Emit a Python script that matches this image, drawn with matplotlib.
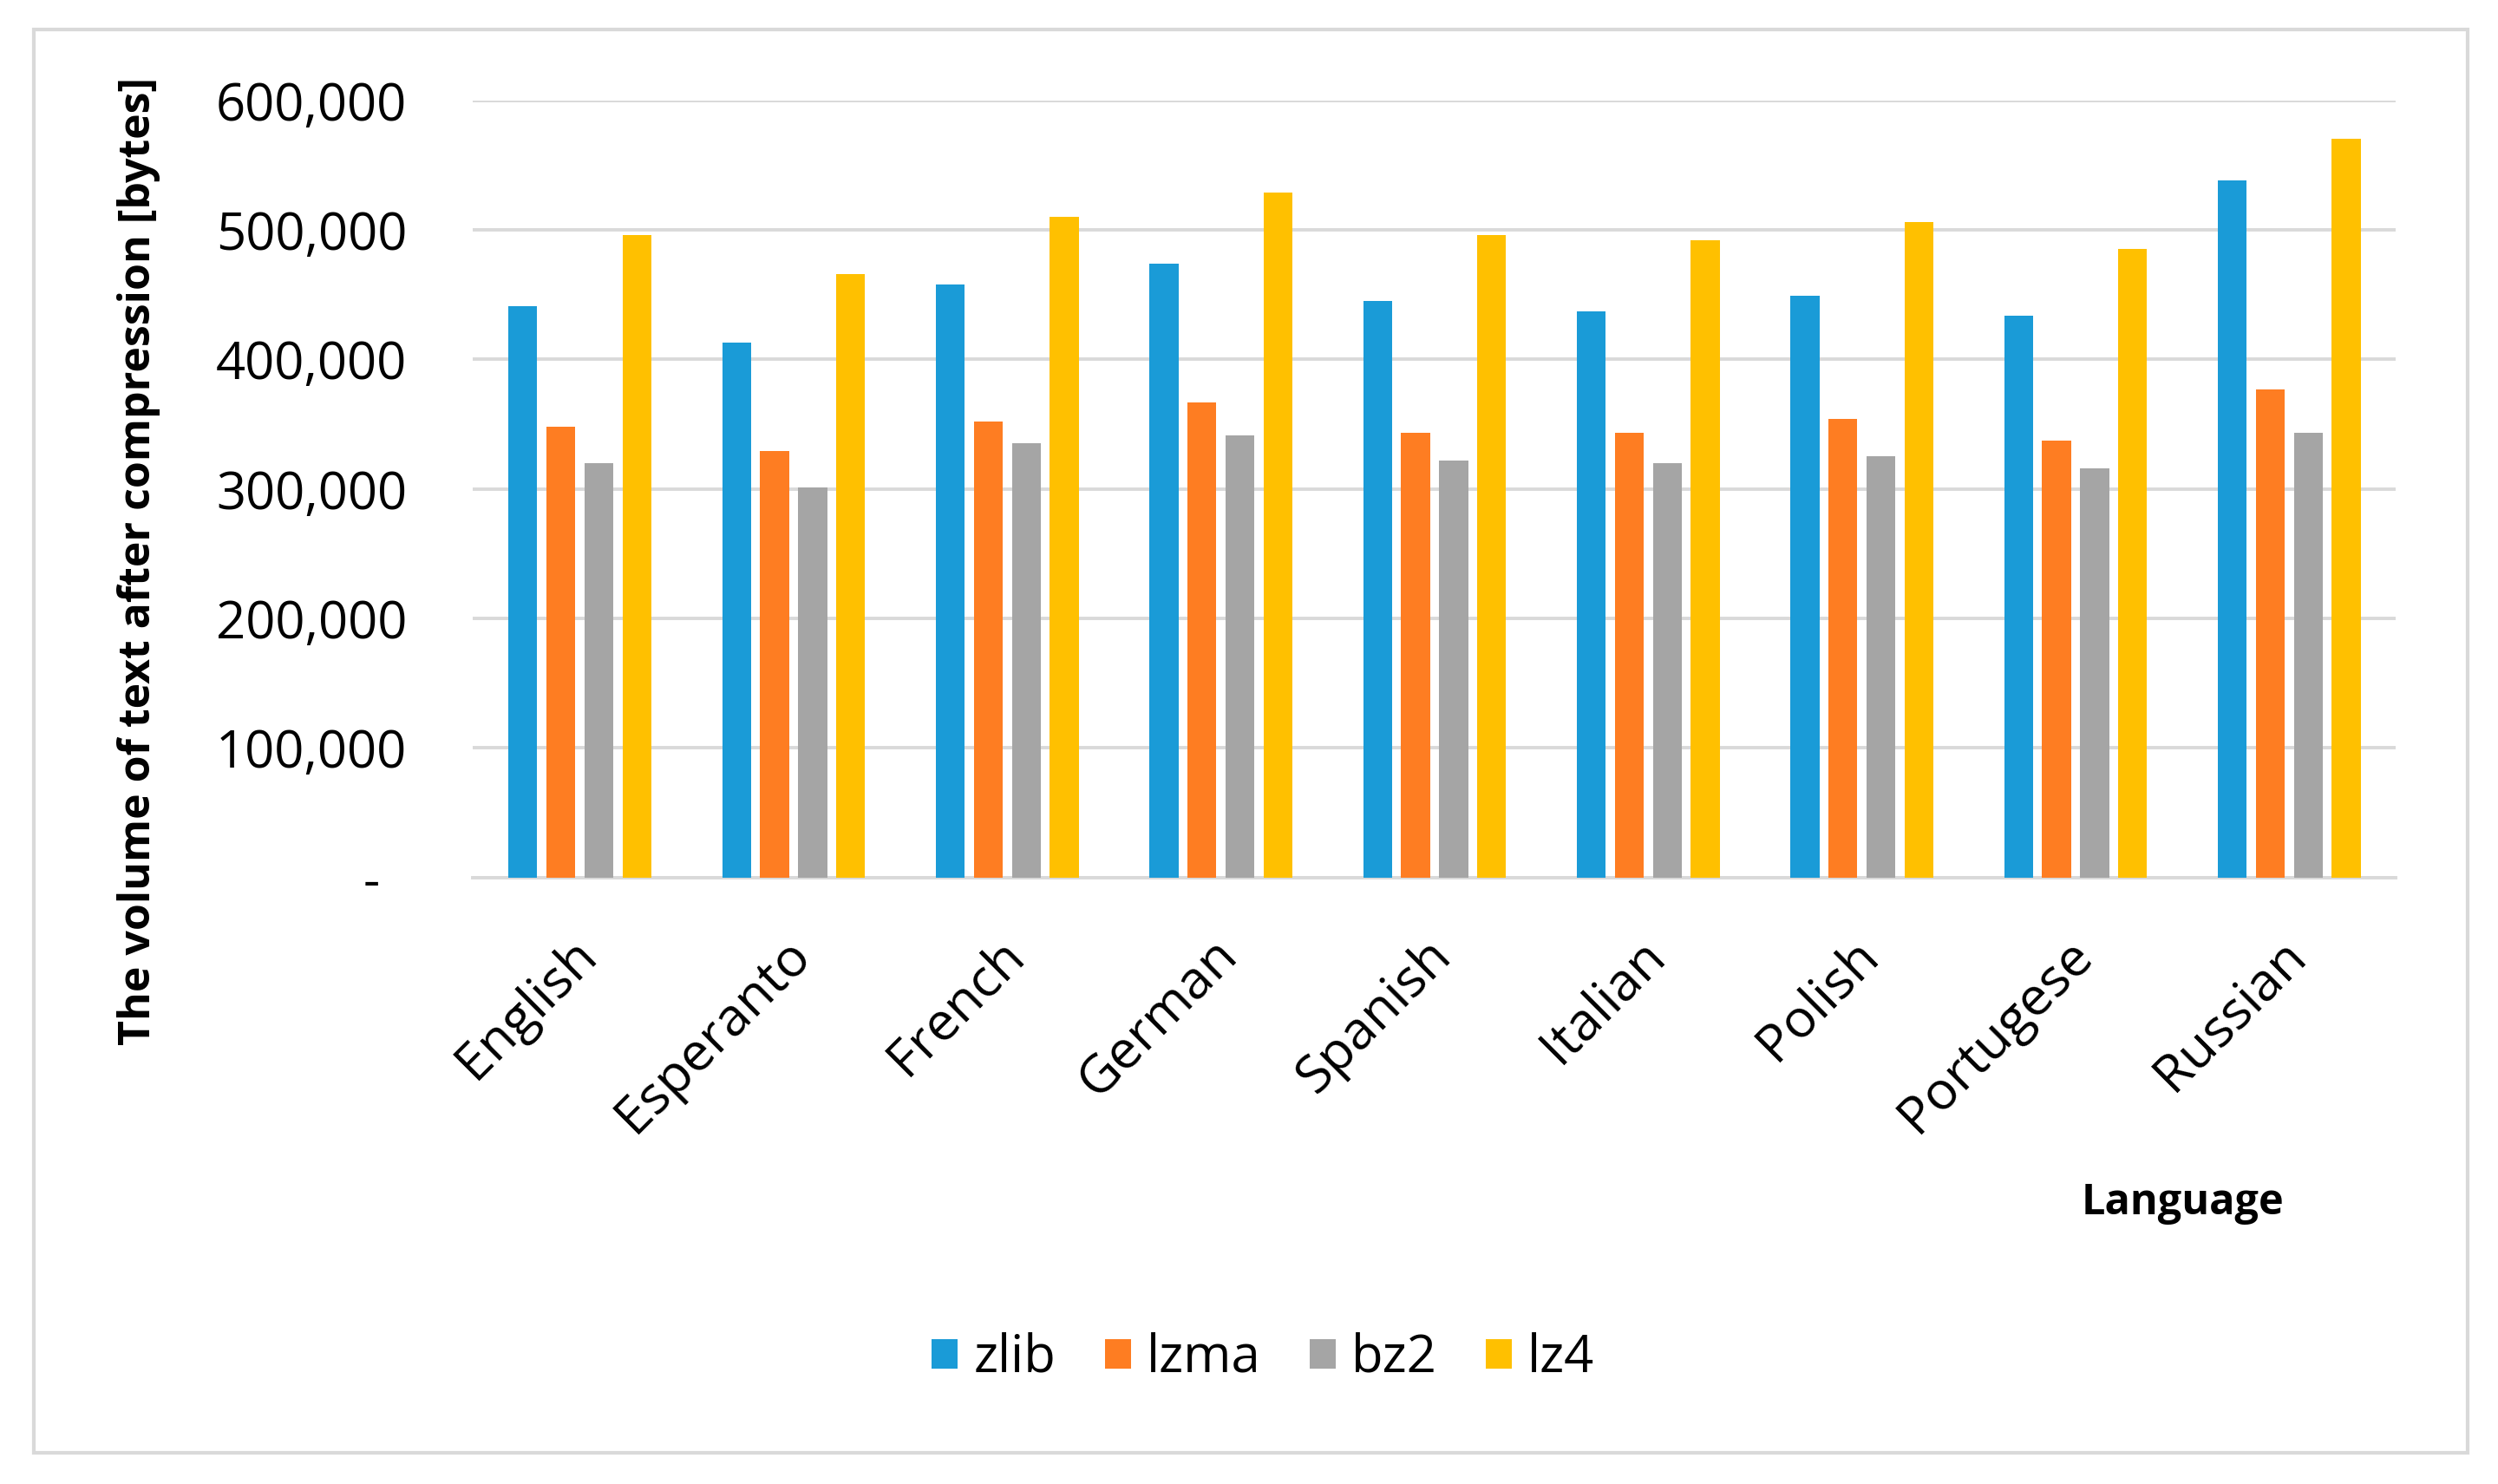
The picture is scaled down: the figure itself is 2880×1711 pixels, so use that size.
import matplotlib
matplotlib.use("Agg")
import matplotlib.pyplot as plt
from matplotlib.patches import Rectangle
from matplotlib.ticker import FixedLocator
import numpy as np

languages = ["English", "Esperanto", "French", "German", "Spanish",
             "Italian", "Polish", "Portugese", "Russian"]
series_names = ["zlib", "lzma", "bz2", "lz4"]
zlib = [441000, 413000, 458000, 474000, 445000, 437000, 449000, 434000, 538000]
lzma = [348000, 329000, 352000, 367000, 343000, 343000, 354000, 337000, 377000]
bz2 = [320000, 301000, 335000, 341000, 322000, 320000, 325000, 316000, 343000]
lz4 = [496000, 466000, 510000, 529000, 496000, 492000, 506000, 485000, 570000]
colors = ["#1A9BD7", "#FE7D22", "#A5A5A5", "#FFC000"]
yticks = [0, 100000, 200000, 300000, 400000, 500000, 600000]
ytick_labels = ["-  ", "100,000", "200,000", "300,000", "400,000", "500,000", "600,000"]

plt.rcParams['font.family'] = ['Open Sans', 'DejaVu Sans']

fig = plt.figure(figsize=(28.8, 17.11), dpi=100)
fig.patch.set_facecolor("white")

# outer border
fig.patches.append(Rectangle((0.0135, 0.021), 0.9743, 0.959, transform=fig.transFigure,
                             fill=False, edgecolor="#D9D9D9", linewidth=3))

ax = fig.add_axes([0.1894, 0.4088, 0.7698, 0.5236])
data = [zlib, lzma, bz2, lz4]
x = np.arange(len(languages))
step = 0.178
width = 0.135
for i, (vals, name, c) in enumerate(zip(data, series_names, colors)):
    ax.bar(x + (i - 1.5) * step, vals, width=width, color=c, label=name, zorder=3)

ax.set_xlim(-0.5, len(languages) - 0.5)
ax.set_ylim(0, 600000)
ax.yaxis.set_major_locator(FixedLocator(yticks))
ax.set_yticklabels(ytick_labels, fontsize=43)
ax.tick_params(axis='y', length=0, pad=55)
ax.grid(axis='y', color="#D9D9D9", linewidth=2.8, zorder=0)
ax.set_axisbelow(True)
for s in ["top", "right", "left"]:
    ax.spines[s].set_visible(False)
ax.spines["bottom"].set_color("#D9D9D9")
ax.spines["bottom"].set_linewidth(2.8)

ax.set_xticks(x + 0.04)
ax.set_xticklabels(languages, fontsize=44, rotation=45, ha='right', va='center',
                   rotation_mode='anchor')
ax.tick_params(axis='x', length=0, pad=58)

fig.text(0.0555, 0.622, "The volume of text after compression [bytes]", rotation=90,
         fontsize=36, fontweight='bold', ha='center', va='center')
fig.text(0.8737, 0.1888, "Language", fontsize=35, fontweight='bold', ha='center', va='center')

leg = fig.legend(loc='center', bbox_to_anchor=(0.5057, 0.0848), ncol=4, frameon=False,
                 fontsize=43, handlelength=0.5, handleheight=0.5, handletextpad=0.3,
                 columnspacing=0.95)

fig.savefig("out.png", dpi=100, facecolor="white")
